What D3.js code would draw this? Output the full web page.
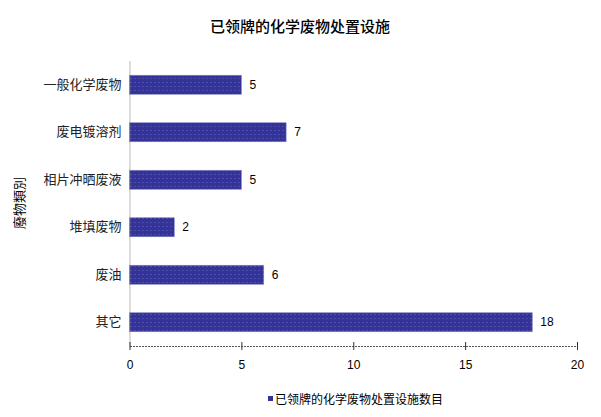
<!DOCTYPE html>
<html>
<head>
<meta charset="utf-8">
<script src="https://cdn.jsdelivr.net/npm/d3@7"></script>
<style>
  body { margin: 0; background: #fff; }
  text { font-family: "Noto Sans CJK SC", "Liberation Sans", sans-serif; fill: #000; }
</style>
</head>
<body>
<div id="chart"></div>
<script>
const categories = ["一般化学废物", "废电镀溶剂", "相片冲晒废液", "堆填废物", "废油", "其它"];
const facilities = [5, 7, 5, 2, 6, 18];
const xTicks = [0, 5, 10, 15, 20];
const titleText = "已领牌的化学废物处置设施";
const yTitle = "廢物類別";
const legendLabel = "已领牌的化学废物处置设施数目";

const viewW = 601, viewH = 417;
const margin = { top: 61, right: 24, bottom: 71, left: 129.5 };
const innerW = viewW - margin.left - margin.right;
const innerH = viewH - margin.top - margin.bottom;
const barColor = "#333399";

const svg = d3.select("#chart")
  .append("svg")
  .attr("width", viewW)
  .attr("height", viewH);

// dotted fill like the original
const defs = svg.append("defs");
const pat = defs.append("pattern")
  .attr("id", "dots")
  .attr("width", 4).attr("height", 4)
  .attr("patternUnits", "userSpaceOnUse");
pat.append("rect").attr("width", 4).attr("height", 4).attr("fill", barColor);
pat.append("rect").attr("x", 1).attr("y", 1).attr("width", 1).attr("height", 1).attr("fill", "#6a6ab8");

svg.append("text")
  .attr("x", 300).attr("y", 32)
  .attr("text-anchor", "middle")
  .style("font-size", "15px")
  .style("font-weight", "500")
  .text(titleText);

const chart = svg.append("g")
  .attr("transform", `translate(${margin.left},${margin.top})`);

const xScale = d3.scaleLinear()
  .domain([0, 20])
  .range([0, innerW]);

const yScale = d3.scaleBand()
  .domain(categories)
  .range([0, innerH])
  .paddingInner(0.6)
  .paddingOuter(0.3);

// bars
chart.selectAll("rect.bar")
  .data(categories)
  .join("rect")
  .attr("class", "bar")
  .attr("x", 0)
  .attr("y", d => yScale(d))
  .attr("width", (d, i) => xScale(facilities[i]))
  .attr("height", yScale.bandwidth())
  .attr("fill", "url(#dots)")
  .attr("stroke", "#8080c0")
  .attr("stroke-width", 0.6);

// value labels
chart.selectAll("text.val")
  .data(categories)
  .join("text")
  .attr("class", "val")
  .attr("x", (d, i) => xScale(facilities[i]) + 8)
  .attr("y", d => yScale(d) + yScale.bandwidth() / 2)
  .attr("dy", "0.35em")
  .style("font-size", "12px")
  .style("font-family", "Liberation Sans, Arial, sans-serif")
  .text((d, i) => facilities[i]);

// y axis
const yAxis = chart.append("g")
  .call(d3.axisLeft(yScale).tickSize(0).tickPadding(8));
yAxis.select(".domain").attr("stroke", "#777").attr("stroke-dasharray", "1,1");
yAxis.selectAll("text").style("font-size", "13px").style("fill", "#222")
  .style("font-family", "Noto Sans CJK SC, sans-serif");

// x axis
const xAxis = chart.append("g")
  .attr("transform", `translate(0,${innerH})`)
  .call(d3.axisBottom(xScale).tickValues(xTicks).tickSize(0).tickPadding(14));
xAxis.select(".domain").attr("stroke", "#555").attr("stroke-dasharray", "2,1");
xAxis.selectAll(".tick line")
  .attr("y1", -4).attr("y2", 4).attr("stroke", "#333");
xAxis.selectAll("text")
  .style("font-size", "12px")
  .style("font-family", "Liberation Sans, Arial, sans-serif");

// y axis title
svg.append("text")
  .attr("transform", "translate(24,203) rotate(-90)")
  .attr("text-anchor", "middle")
  .style("font-size", "13px")
  .text(yTitle);

// legend
const legend = svg.append("g").attr("transform", "translate(268,400)");
legend.append("rect")
  .attr("x", 0).attr("y", -4)
  .attr("width", 5).attr("height", 5)
  .attr("fill", barColor);
legend.append("text")
  .attr("x", 7).attr("y", 0)
  .attr("dy", "0.35em")
  .style("font-size", "12px")
  .text(legendLabel);
</script>
</body>
</html>
